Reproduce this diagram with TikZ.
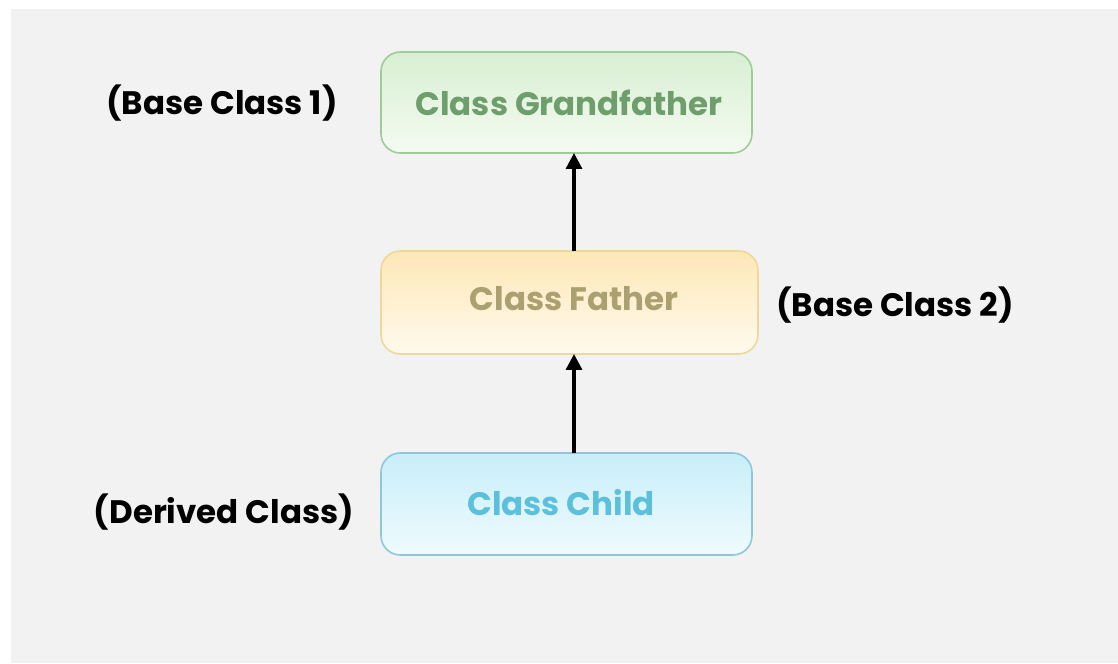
\documentclass[tikz,border=0pt]{standalone}
\usepackage{fontspec}
\setmainfont{Poppins}
\usetikzlibrary{arrows.meta}
\definecolor{bgray}{HTML}{F2F2F2}
\definecolor{gfText}{HTML}{6E9E6C}
\definecolor{gfLine}{HTML}{9ECB98}
\definecolor{gfTop}{HTML}{D8EFD2}
\definecolor{gfBot}{HTML}{F4FBF1}
\definecolor{faText}{HTML}{AAA070}
\definecolor{faLine}{HTML}{EED79A}
\definecolor{faTop}{HTML}{FDE7B6}
\definecolor{faBot}{HTML}{FFFAEE}
\definecolor{chText}{HTML}{5CC0DC}
\definecolor{chLine}{HTML}{8CC8D8}
\definecolor{chTop}{HTML}{C8EEF9}
\definecolor{chBot}{HTML}{EFFBFE}
\tikzset{
  classbox/.style={rounded corners=11pt, line width=0.9pt},
  classtext/.style={font=\bfseries\fontsize{18.5}{21}\selectfont},
  rolelabel/.style={font=\bfseries\fontsize{18.5}{21}\selectfont, text=black},
  inherit/.style={-{Triangle[length=9pt,width=9pt]}, line width=1.9pt, black},
}
\begin{document}
\begin{tikzpicture}[x=0.02cm,y=-0.02cm]
  \useasboundingbox (0,0) rectangle (1118,663);
  \fill[white] (0,0) rectangle (1118,663);
  \fill[bgray] (11,9) rectangle (1118,663);

  % class boxes
  \shade[classbox, top color=gfTop, bottom color=gfBot, draw=gfLine] (381,52) rectangle (752,153);
  \node[classtext, text=gfText] (gf) at (569,102.5) {Class Grandfather};
  \coordinate (gfbot) at (574,153);

  \shade[classbox, top color=faTop, bottom color=faBot, draw=faLine] (381,251) rectangle (758,354);
  \node[classtext, text=faText] (fa) at (574,299) {Class Father};
  \coordinate (fatop) at (574,251);
  \coordinate (fabot) at (574,354);

  \shade[classbox, top color=chTop, bottom color=chBot, draw=chLine] (381,453) rectangle (752,555);
  \node[classtext, text=chText] (ch) at (561,503) {Class Child};
  \coordinate (chtop) at (574,453);

  % role labels
  \node[rolelabel] (l1) at (222,103) {(Base Class 1)};
  \node[rolelabel] (l2) at (895,305) {(Base Class 2)};
  \node[rolelabel] (l3) at (224,512) {(Derived Class)};

  % inheritance arrows
  \draw[inherit] (fatop) -- (gfbot);
  \draw[inherit] (chtop) -- (fabot);
\end{tikzpicture}
\end{document}
